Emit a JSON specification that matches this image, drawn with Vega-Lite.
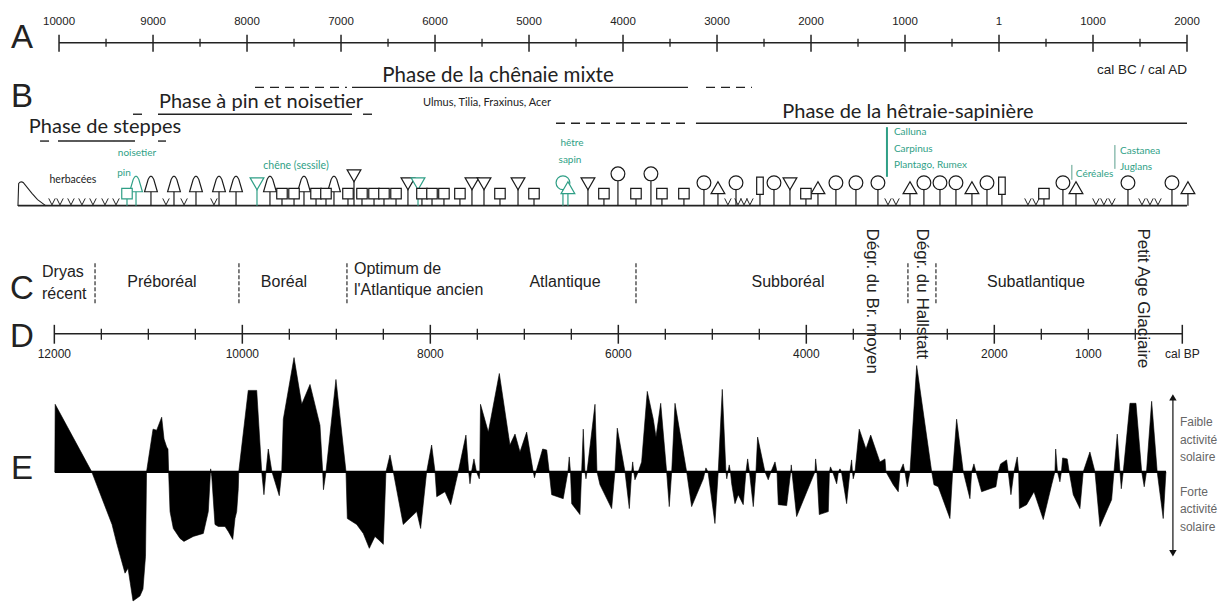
{
  "$schema": "https://vega.github.io/schema/vega-lite/v6.json",
  "width": 1223,
  "height": 603,
  "autosize": {"type": "fit", "contains": "padding"},
  "padding": 0,
  "background": "white",
  "config": {"view": {"stroke": null}, "text": {"font": "Liberation Sans", "color": "#222"}},
  "datasets": {
    "axeA_maj": [
      {"bp": 11950, "label": "10000"}, {"bp": 10950, "label": "9000"}, {"bp": 9950, "label": "8000"},
      {"bp": 8950, "label": "7000"}, {"bp": 7950, "label": "6000"}, {"bp": 6950, "label": "5000"},
      {"bp": 5950, "label": "4000"}, {"bp": 4950, "label": "3000"}, {"bp": 3950, "label": "2000"},
      {"bp": 2950, "label": "1000"}, {"bp": 1950, "label": "1"}, {"bp": 950, "label": "1000"},
      {"bp": -50, "label": "2000"}
    ],
    "axeA_min": [
      {"bp": 11450}, {"bp": 10450}, {"bp": 9450}, {"bp": 8450}, {"bp": 7450}, {"bp": 6450},
      {"bp": 5450}, {"bp": 4450}, {"bp": 3450}, {"bp": 2450}, {"bp": 1450}, {"bp": 450}
    ],
    "axeD_maj": [
      {"bp": 12000, "label": "12000"}, {"bp": 10000, "label": "10000"}, {"bp": 8000, "label": "8000"},
      {"bp": 6000, "label": "6000"}, {"bp": 4000, "label": "4000"}, {"bp": 2000, "label": "2000"},
      {"bp": 0, "label": "cal BP"}
    ],
    "axeD_min": [
      {"bp": 11500}, {"bp": 11000}, {"bp": 10500}, {"bp": 9500}, {"bp": 9000}, {"bp": 8500},
      {"bp": 7500}, {"bp": 7000}, {"bp": 6500}, {"bp": 5500}, {"bp": 5000}, {"bp": 4500},
      {"bp": 3500}, {"bp": 3000}, {"bp": 2500}, {"bp": 1500}, {"bp": 1000}, {"bp": 500}
    ],
    "phases": [
      {"phase": "chenaie", "debut": 9865, "fin": 8887, "statut": "incertaine"},
      {"phase": "chenaie", "debut": 8833, "fin": 5259, "statut": "attestee"},
      {"phase": "chenaie", "debut": 5067, "fin": 4578, "statut": "incertaine"},
      {"phase": "pin", "debut": 11163, "fin": 11014, "statut": "incertaine"},
      {"phase": "pin", "debut": 10897, "fin": 8833, "statut": "attestee"},
      {"phase": "pin", "debut": 8716, "fin": 8610, "statut": "incertaine"},
      {"phase": "steppes", "debut": 12152, "fin": 12046, "statut": "incertaine"},
      {"phase": "steppes", "debut": 11961, "fin": 11142, "statut": "attestee"},
      {"phase": "steppes", "debut": 10897, "fin": 10812, "statut": "incertaine"},
      {"phase": "hetraie", "debut": 6663, "fin": 5238, "statut": "incertaine"},
      {"phase": "hetraie", "debut": 5174, "fin": -50, "statut": "attestee"}
    ],
    "limites": [
      {"bp": 11567}, {"bp": 10036}, {"bp": 8887}, {"bp": 5812}, {"bp": 2919}, {"bp": 2621}
    ],
    "periodes": [
      {"bp": 10855, "nom": "Préboréal"}, {"bp": 9557, "nom": "Boréal"},
      {"bp": 6567, "nom": "Atlantique"}, {"bp": 4195, "nom": "Subboréal"},
      {"bp": 1557, "nom": "Subatlantique"}
    ],
    "degradations": [
      {"bp": 3302, "nom": "Dégr. du Br. moyen"}, {"bp": 2770, "nom": "Dégr. du Hallstatt"},
      {"bp": 419, "nom": "Petit Age Glaciaire"}
    ],
    "herbes": [
      {"bp": 12025}, {"bp": 11940}, {"bp": 11823}, {"bp": 11706}, {"bp": 11589}, {"bp": 11461},
      {"bp": 11344}, {"bp": 10812}, {"bp": 10620}, {"bp": 10302}, {"bp": 4834}, {"bp": 4727},
      {"bp": 4663}, {"bp": 4600}, {"bp": 3131}, {"bp": 3046}, {"bp": 1642}, {"bp": 1557},
      {"bp": 919}, {"bp": 834}, {"bp": 749}, {"bp": 429}, {"bp": 344}, {"bp": 259}
    ],
    "arbres": [
      {"bp": 11227, "forme": "carre", "repere": "oui"}, {"bp": 11131, "forme": "cloche", "repere": "oui"},
      {"bp": 10972, "forme": "cloche", "repere": "non"}, {"bp": 10727, "forme": "cloche", "repere": "non"},
      {"bp": 10493, "forme": "cloche", "repere": "non"}, {"bp": 10248, "forme": "cloche", "repere": "non"},
      {"bp": 10067, "forme": "cloche", "repere": "non"}, {"bp": 9844, "forme": "tri_inv", "repere": "oui"},
      {"bp": 9706, "forme": "cloche", "repere": "non"}, {"bp": 9578, "forme": "carre", "repere": "non"},
      {"bp": 9450, "forme": "carre", "repere": "non"}, {"bp": 9344, "forme": "cloche", "repere": "non"},
      {"bp": 9216, "forme": "carre", "repere": "non"}, {"bp": 9110, "forme": "carre", "repere": "non"},
      {"bp": 9025, "forme": "cloche", "repere": "non"}, {"bp": 8876, "forme": "carre", "repere": "non"},
      {"bp": 8812, "forme": "tri_inv_haut", "repere": "non"}, {"bp": 8727, "forme": "carre", "repere": "non"},
      {"bp": 8599, "forme": "carre", "repere": "non"}, {"bp": 8493, "forme": "carre", "repere": "non"},
      {"bp": 8365, "forme": "carre", "repere": "non"}, {"bp": 8238, "forme": "tri_inv", "repere": "non"},
      {"bp": 8131, "forme": "tri_inv", "repere": "oui"}, {"bp": 8089, "forme": "carre", "repere": "non"},
      {"bp": 7982, "forme": "carre", "repere": "non"}, {"bp": 7855, "forme": "carre", "repere": "non"},
      {"bp": 7685, "forme": "carre", "repere": "non"}, {"bp": 7557, "forme": "tri_inv", "repere": "non"},
      {"bp": 7429, "forme": "tri_inv", "repere": "non"}, {"bp": 7259, "forme": "carre", "repere": "non"},
      {"bp": 7067, "forme": "tri_inv", "repere": "non"}, {"bp": 6897, "forme": "carre", "repere": "non"},
      {"bp": 6589, "forme": "rond", "repere": "oui"}, {"bp": 6536, "forme": "tri", "repere": "oui"},
      {"bp": 6323, "forme": "tri_inv", "repere": "non"}, {"bp": 6153, "forme": "carre", "repere": "non"},
      {"bp": 6004, "forme": "rond_haut", "repere": "non"}, {"bp": 5812, "forme": "carre", "repere": "non"},
      {"bp": 5653, "forme": "rond_haut", "repere": "non"}, {"bp": 5536, "forme": "carre", "repere": "non"},
      {"bp": 5302, "forme": "carre", "repere": "non"}, {"bp": 5089, "forme": "rond", "repere": "non"},
      {"bp": 4940, "forme": "tri", "repere": "non"}, {"bp": 4748, "forme": "rond", "repere": "non"},
      {"bp": 4493, "forme": "barre", "repere": "non"}, {"bp": 4344, "forme": "rond", "repere": "non"},
      {"bp": 4174, "forme": "tri_inv", "repere": "non"}, {"bp": 4004, "forme": "carre", "repere": "non"},
      {"bp": 3876, "forme": "tri", "repere": "non"}, {"bp": 3685, "forme": "rond", "repere": "non"},
      {"bp": 3472, "forme": "rond", "repere": "non"}, {"bp": 3238, "forme": "rond", "repere": "non"},
      {"bp": 2897, "forme": "tri", "repere": "non"}, {"bp": 2749, "forme": "rond", "repere": "non"},
      {"bp": 2578, "forme": "rond", "repere": "non"}, {"bp": 2408, "forme": "rond", "repere": "non"},
      {"bp": 2238, "forme": "tri", "repere": "non"}, {"bp": 2078, "forme": "rond", "repere": "non"},
      {"bp": 1919, "forme": "barre", "repere": "non"}, {"bp": 1472, "forme": "carre", "repere": "non"},
      {"bp": 1270, "forme": "rond", "repere": "non"}, {"bp": 1131, "forme": "tri", "repere": "non"},
      {"bp": 578, "forme": "rond", "repere": "non"}, {"bp": 110, "forme": "rond", "repere": "non"},
      {"bp": -60, "forme": "tri", "repere": "non"}
    ],
    "activite": [
      {"bp": 11995, "v": 0}, {"bp": 11991, "v": 6.8}, {"bp": 11602, "v": 0}, {"bp": 11386, "v": -5.3},
      {"bp": 11333, "v": -7.3}, {"bp": 11248, "v": -10.2}, {"bp": 11216, "v": -9.7}, {"bp": 11163, "v": -13},
      {"bp": 11089, "v": -12.5}, {"bp": 11057, "v": -11.8}, {"bp": 11030, "v": -8.5}, {"bp": 11019, "v": 0},
      {"bp": 10950, "v": 4.3}, {"bp": 10911, "v": 4.2}, {"bp": 10858, "v": 5.5}, {"bp": 10833, "v": 3.3},
      {"bp": 10805, "v": 2.5}, {"bp": 10791, "v": 2.3}, {"bp": 10784, "v": 0}, {"bp": 10769, "v": -4},
      {"bp": 10734, "v": -5.7}, {"bp": 10663, "v": -6.7}, {"bp": 10621, "v": -7}, {"bp": 10522, "v": -6.5},
      {"bp": 10415, "v": -6.2}, {"bp": 10362, "v": -4}, {"bp": 10337, "v": 0.3}, {"bp": 10325, "v": -0.5},
      {"bp": 10291, "v": -5.3}, {"bp": 10256, "v": -5.5}, {"bp": 10184, "v": -5.5}, {"bp": 10149, "v": -6},
      {"bp": 10102, "v": -6.8}, {"bp": 10078, "v": -4.7}, {"bp": 10060, "v": -4}, {"bp": 10043, "v": -1.7},
      {"bp": 10038, "v": 0}, {"bp": 9937, "v": 8.2}, {"bp": 9847, "v": 8.2}, {"bp": 9794, "v": 0},
      {"bp": 9770, "v": -2.3}, {"bp": 9748, "v": 0}, {"bp": 9724, "v": 2.3}, {"bp": 9685, "v": 0},
      {"bp": 9607, "v": -2.4}, {"bp": 9581, "v": 0}, {"bp": 9564, "v": 5.3}, {"bp": 9450, "v": 11.5},
      {"bp": 9368, "v": 6.8}, {"bp": 9280, "v": 8.8}, {"bp": 9174, "v": 4.7}, {"bp": 9145, "v": 0},
      {"bp": 9137, "v": -1.8}, {"bp": 9110, "v": 0}, {"bp": 9004, "v": 9.3}, {"bp": 8897, "v": 0},
      {"bp": 8883, "v": -4.7}, {"bp": 8783, "v": -5.3}, {"bp": 8713, "v": -6.2}, {"bp": 8649, "v": -7.7},
      {"bp": 8589, "v": -6.5}, {"bp": 8554, "v": -6.8}, {"bp": 8500, "v": -7.3}, {"bp": 8472, "v": 0},
      {"bp": 8429, "v": 1.7}, {"bp": 8394, "v": 0}, {"bp": 8288, "v": -5.3}, {"bp": 8145, "v": -4},
      {"bp": 8103, "v": -5.7}, {"bp": 8039, "v": 0}, {"bp": 7986, "v": 2.7}, {"bp": 7950, "v": 0},
      {"bp": 7932, "v": -2.5}, {"bp": 7844, "v": -2}, {"bp": 7783, "v": -3.3}, {"bp": 7703, "v": 0},
      {"bp": 7621, "v": 3.7}, {"bp": 7592, "v": 0}, {"bp": 7578, "v": -1.2}, {"bp": 7562, "v": 0},
      {"bp": 7536, "v": 1.3}, {"bp": 7509, "v": 0}, {"bp": 7479, "v": -0.7}, {"bp": 7474, "v": 0},
      {"bp": 7466, "v": 6.8}, {"bp": 7383, "v": 4}, {"bp": 7266, "v": 9.9}, {"bp": 7153, "v": 2.7},
      {"bp": 7099, "v": 3.8}, {"bp": 7046, "v": 2}, {"bp": 6975, "v": 4}, {"bp": 6905, "v": 0},
      {"bp": 6892, "v": -0.6}, {"bp": 6876, "v": 0}, {"bp": 6805, "v": 2.3}, {"bp": 6762, "v": 2.2},
      {"bp": 6735, "v": 0}, {"bp": 6709, "v": -2.3}, {"bp": 6586, "v": -2.7}, {"bp": 6536, "v": 0},
      {"bp": 6522, "v": 1.5}, {"bp": 6509, "v": 0}, {"bp": 6496, "v": -3.2}, {"bp": 6408, "v": -4.3},
      {"bp": 6390, "v": 0}, {"bp": 6373, "v": 4.3}, {"bp": 6355, "v": 0}, {"bp": 6344, "v": -0.7},
      {"bp": 6333, "v": 0}, {"bp": 6248, "v": 6.8}, {"bp": 6227, "v": 0}, {"bp": 6195, "v": -1.3},
      {"bp": 6071, "v": -3.7}, {"bp": 6036, "v": 0}, {"bp": 6011, "v": 4.4}, {"bp": 5929, "v": 0},
      {"bp": 5883, "v": -3.7}, {"bp": 5858, "v": 0}, {"bp": 5847, "v": 1}, {"bp": 5836, "v": 0},
      {"bp": 5823, "v": -0.8}, {"bp": 5788, "v": 0}, {"bp": 5752, "v": 1}, {"bp": 5692, "v": 8.1},
      {"bp": 5628, "v": 5.3}, {"bp": 5599, "v": 3.5}, {"bp": 5549, "v": 6.9}, {"bp": 5486, "v": 0},
      {"bp": 5458, "v": -3.5}, {"bp": 5432, "v": 0}, {"bp": 5397, "v": 6.9}, {"bp": 5273, "v": 0},
      {"bp": 5220, "v": -3.5}, {"bp": 5096, "v": -0.7}, {"bp": 5068, "v": 0.4}, {"bp": 5046, "v": 0},
      {"bp": 4972, "v": -5.2}, {"bp": 4937, "v": 0}, {"bp": 4894, "v": 8.3}, {"bp": 4855, "v": 0},
      {"bp": 4846, "v": -0.7}, {"bp": 4833, "v": 0}, {"bp": 4820, "v": 0.7}, {"bp": 4807, "v": 0},
      {"bp": 4794, "v": -1.2}, {"bp": 4759, "v": -3.2}, {"bp": 4724, "v": -2.3}, {"bp": 4671, "v": -3.3},
      {"bp": 4642, "v": 0}, {"bp": 4624, "v": 1.3}, {"bp": 4605, "v": 0}, {"bp": 4564, "v": -3.5},
      {"bp": 4536, "v": 0}, {"bp": 4518, "v": 3.5}, {"bp": 4440, "v": 0}, {"bp": 4405, "v": -0.8},
      {"bp": 4376, "v": 0}, {"bp": 4333, "v": 1}, {"bp": 4312, "v": 0}, {"bp": 4298, "v": -3.3},
      {"bp": 4209, "v": -3.4}, {"bp": 4166, "v": 0}, {"bp": 4160, "v": 0.7}, {"bp": 4153, "v": 0},
      {"bp": 4103, "v": -4.5}, {"bp": 3908, "v": 0}, {"bp": 3901, "v": 1.3}, {"bp": 3887, "v": 0},
      {"bp": 3862, "v": -4.3}, {"bp": 3766, "v": -4}, {"bp": 3754, "v": 0}, {"bp": 3743, "v": 0.5},
      {"bp": 3720, "v": 0}, {"bp": 3677, "v": -1.2}, {"bp": 3658, "v": 0}, {"bp": 3642, "v": 0.3},
      {"bp": 3626, "v": 0}, {"bp": 3571, "v": -3.2}, {"bp": 3536, "v": 0}, {"bp": 3518, "v": 1.2},
      {"bp": 3509, "v": 0}, {"bp": 3501, "v": -0.7}, {"bp": 3482, "v": 0}, {"bp": 3437, "v": 4.3},
      {"bp": 3365, "v": 2.3}, {"bp": 3315, "v": 3.7}, {"bp": 3217, "v": 1}, {"bp": 3163, "v": 1.3},
      {"bp": 3153, "v": 0}, {"bp": 3075, "v": -1.3}, {"bp": 3022, "v": -2}, {"bp": 3004, "v": 0},
      {"bp": 2969, "v": 0.8}, {"bp": 2951, "v": 0}, {"bp": 2926, "v": -1.5}, {"bp": 2897, "v": 0},
      {"bp": 2826, "v": 10.7}, {"bp": 2666, "v": 0}, {"bp": 2642, "v": -1.3}, {"bp": 2596, "v": -1.5},
      {"bp": 2472, "v": -4.7}, {"bp": 2443, "v": 0}, {"bp": 2401, "v": 5.3}, {"bp": 2330, "v": 0},
      {"bp": 2259, "v": -2.7}, {"bp": 2241, "v": 0}, {"bp": 2217, "v": 0.8}, {"bp": 2195, "v": 0},
      {"bp": 2135, "v": -2}, {"bp": 2046, "v": -1.7}, {"bp": 1983, "v": -1.5}, {"bp": 1958, "v": 0},
      {"bp": 1933, "v": 0.8}, {"bp": 1869, "v": 1.2}, {"bp": 1852, "v": 0}, {"bp": 1823, "v": -2.3},
      {"bp": 1791, "v": 0}, {"bp": 1756, "v": 1.5}, {"bp": 1741, "v": 0}, {"bp": 1733, "v": -3.7},
      {"bp": 1656, "v": -3.3}, {"bp": 1578, "v": -2}, {"bp": 1479, "v": -4.8}, {"bp": 1390, "v": -1.3},
      {"bp": 1355, "v": 0}, {"bp": 1347, "v": 2.3}, {"bp": 1328, "v": 0}, {"bp": 1302, "v": -1},
      {"bp": 1286, "v": 0}, {"bp": 1273, "v": 1.4}, {"bp": 1224, "v": 1.3}, {"bp": 1203, "v": 0},
      {"bp": 1160, "v": -2.3}, {"bp": 1089, "v": -3.7}, {"bp": 1054, "v": 0}, {"bp": 983, "v": 2},
      {"bp": 929, "v": 0}, {"bp": 876, "v": -5.5}, {"bp": 752, "v": -2.8}, {"bp": 727, "v": 0},
      {"bp": 692, "v": 3.8}, {"bp": 663, "v": 0}, {"bp": 649, "v": -1.7}, {"bp": 628, "v": 0},
      {"bp": 557, "v": 6.9}, {"bp": 493, "v": 6.9}, {"bp": 432, "v": 0}, {"bp": 405, "v": -1.5},
      {"bp": 381, "v": 0}, {"bp": 326, "v": 7.1}, {"bp": 267, "v": 0}, {"bp": 203, "v": -4.7},
      {"bp": 174, "v": 0}
    ]
  },
  "layer": [
    {
      "layer": [
        {"data": {"values": [{}]}, "mark": {"type": "text", "fontSize": 33},
         "encoding": {"x": {"datum": 12344, "scale": {"domain": [-433, 12578], "reverse": true, "nice": false, "zero": false}, "axis": null},
                      "y": {"datum": 38, "scale": {"domain": [0, 603], "reverse": true, "nice": false, "zero": false}, "axis": null},
                      "text": {"value": "A"}}},
        {"data": {"values": [{}]}, "mark": {"type": "text", "fontSize": 33},
         "encoding": {"x": {"datum": 12344}, "y": {"datum": 98}, "text": {"value": "B"}}},
        {"data": {"values": [{}]}, "mark": {"type": "text", "fontSize": 33},
         "encoding": {"x": {"datum": 12344}, "y": {"datum": 291}, "text": {"value": "C"}}},
        {"data": {"values": [{}]}, "mark": {"type": "text", "fontSize": 33},
         "encoding": {"x": {"datum": 12344}, "y": {"datum": 339}, "text": {"value": "D"}}},
        {"data": {"values": [{}]}, "mark": {"type": "text", "fontSize": 33},
         "encoding": {"x": {"datum": 12344}, "y": {"datum": 472}, "text": {"value": "E"}}},

        {"data": {"values": [{}]}, "mark": {"type": "rule", "strokeWidth": 1.5, "color": "#222"},
         "encoding": {"x": {"datum": 11950}, "x2": {"datum": -50}, "y": {"datum": 43}}},
        {"data": {"name": "axeA_maj"}, "mark": {"type": "rule", "strokeWidth": 1.5, "color": "#222"},
         "encoding": {"x": {"field": "bp", "type": "quantitative"}, "y": {"datum": 35}, "y2": {"datum": 52}}},
        {"data": {"name": "axeA_min"}, "mark": {"type": "rule", "strokeWidth": 1.3, "color": "#222"},
         "encoding": {"x": {"field": "bp", "type": "quantitative"}, "y": {"datum": 39}, "y2": {"datum": 47}}},
        {"data": {"name": "axeA_maj"}, "mark": {"type": "text", "fontSize": 11.5},
         "encoding": {"x": {"field": "bp", "type": "quantitative"}, "y": {"datum": 22}, "text": {"field": "label"}}},
        {"data": {"values": [{}]}, "mark": {"type": "text", "fontSize": 13.5, "align": "right"},
         "encoding": {"x": {"datum": -50}, "y": {"datum": 70}, "text": {"value": "cal BC / cal AD"}}},

        {"data": {"values": [{}]}, "mark": {"type": "text", "fontSize": 20.5, "font": "Lato"},
         "encoding": {"x": {"datum": 7280}, "y": {"datum": 77}, "text": {"value": "Phase de la chênaie mixte"}}},
        {"data": {"values": [{}]}, "mark": {"type": "text", "fontSize": 11, "font": "Lato"},
         "encoding": {"x": {"datum": 7397}, "y": {"datum": 104}, "text": {"value": "Ulmus, Tilia, Fraxinus, Acer"}}},
        {"data": {"values": [{}]}, "mark": {"type": "text", "fontSize": 20, "font": "Lato"},
         "encoding": {"x": {"datum": 9801}, "y": {"datum": 103}, "text": {"value": "Phase à pin et noisetier"}}},
        {"data": {"values": [{}]}, "mark": {"type": "text", "fontSize": 20, "font": "Lato"},
         "encoding": {"x": {"datum": 11461}, "y": {"datum": 128}, "text": {"value": "Phase de steppes"}}},
        {"data": {"values": [{}]}, "mark": {"type": "text", "fontSize": 20, "font": "Lato"},
         "encoding": {"x": {"datum": 2919}, "y": {"datum": 113}, "text": {"value": "Phase de la hêtraie-sapinière"}}},

        {"data": {"name": "phases"}, "transform": [{"filter": "datum.phase === 'chenaie'"}],
         "mark": {"type": "rule", "strokeWidth": 1.4, "color": "#222"},
         "encoding": {"x": {"field": "debut", "type": "quantitative"}, "x2": {"field": "fin"}, "y": {"datum": 88},
                      "strokeDash": {"field": "statut", "type": "nominal", "scale": {"domain": ["attestee", "incertaine"], "range": [[1, 0], [9, 6]]}, "legend": null}}},
        {"data": {"name": "phases"}, "transform": [{"filter": "datum.phase === 'pin'"}],
         "mark": {"type": "rule", "strokeWidth": 1.4, "color": "#222"},
         "encoding": {"x": {"field": "debut", "type": "quantitative"}, "x2": {"field": "fin"}, "y": {"datum": 115},
                      "strokeDash": {"field": "statut", "type": "nominal", "legend": null}}},
        {"data": {"name": "phases"}, "transform": [{"filter": "datum.phase === 'steppes'"}],
         "mark": {"type": "rule", "strokeWidth": 1.4, "color": "#222"},
         "encoding": {"x": {"field": "debut", "type": "quantitative"}, "x2": {"field": "fin"}, "y": {"datum": 142},
                      "strokeDash": {"field": "statut", "type": "nominal", "legend": null}}},
        {"data": {"name": "phases"}, "transform": [{"filter": "datum.phase === 'hetraie'"}],
         "mark": {"type": "rule", "strokeWidth": 1.4, "color": "#222"},
         "encoding": {"x": {"field": "debut", "type": "quantitative"}, "x2": {"field": "fin"}, "y": {"datum": 124},
                      "strokeDash": {"field": "statut", "type": "nominal", "legend": null}}},

        {"data": {"values": [{}]}, "mark": {"type": "text", "fontSize": 10, "color": "#2f9f86", "font": "Lato"},
         "encoding": {"x": {"datum": 11121}, "y": {"datum": 154}, "text": {"value": "noisetier"}}},
        {"data": {"values": [{}]}, "mark": {"type": "text", "fontSize": 10, "color": "#2f9f86", "font": "Lato"},
         "encoding": {"x": {"datum": 11259}, "y": {"datum": 174}, "text": {"value": "pin"}}},
        {"data": {"values": [{}]}, "mark": {"type": "text", "fontSize": 10.5, "color": "#2f9f86", "font": "Lato"},
         "encoding": {"x": {"datum": 9429}, "y": {"datum": 167}, "text": {"value": "chêne (sessile)"}}},
        {"data": {"values": [{}]}, "mark": {"type": "text", "fontSize": 10, "color": "#2f9f86", "font": "Lato"},
         "encoding": {"x": {"datum": 6493}, "y": {"datum": 144}, "text": {"value": "hêtre"}}},
        {"data": {"values": [{}]}, "mark": {"type": "text", "fontSize": 10, "color": "#2f9f86", "font": "Lato"},
         "encoding": {"x": {"datum": 6514}, "y": {"datum": 161}, "text": {"value": "sapin"}}},
        {"data": {"values": [{}]}, "mark": {"type": "text", "fontSize": 10, "color": "#2f9f86", "font": "Lato", "align": "left", "baseline": "top", "lineHeight": 16.5},
         "encoding": {"x": {"datum": 3068}, "y": {"datum": 128}, "text": {"value": ["Calluna", "Carpinus", "Plantago, Rumex"]}}},
        {"data": {"values": [{}]}, "mark": {"type": "text", "fontSize": 10, "color": "#2f9f86", "font": "Lato", "align": "left", "baseline": "top", "lineHeight": 16},
         "encoding": {"x": {"datum": 663}, "y": {"datum": 147}, "text": {"value": ["Castanea", "Juglans"]}}},
        {"data": {"values": [{}]}, "mark": {"type": "text", "fontSize": 10, "color": "#2f9f86", "font": "Lato", "align": "left"},
         "encoding": {"x": {"datum": 1133}, "y": {"datum": 175}, "text": {"value": "Céréales"}}},
        {"data": {"values": [{}]}, "mark": {"type": "rule", "strokeWidth": 2, "color": "#2f9f86"},
         "encoding": {"x": {"datum": 3142}, "y": {"datum": 128}, "y2": {"datum": 178}}},
        {"data": {"values": [{}]}, "mark": {"type": "rule", "strokeWidth": 1, "color": "#5a9f8c"},
         "encoding": {"x": {"datum": 717}, "y": {"datum": 146}, "y2": {"datum": 170}}},
        {"data": {"values": [{}]}, "mark": {"type": "rule", "strokeWidth": 1, "color": "#5a9f8c"},
         "encoding": {"x": {"datum": 1175}, "y": {"datum": 166}, "y2": {"datum": 181}}},

        {"data": {"values": [{}]}, "mark": {"type": "text", "fontSize": 10.5, "font": "Lato"},
         "encoding": {"x": {"datum": 11802}, "y": {"datum": 181}, "text": {"value": "herbacées"}}},
        {"data": {"values": [{}]}, "mark": {"type": "point", "shape": "M -1 0.8 L -0.95 -0.8 Q -0.8 -1 -0.6 -0.85 L 0 -0.1 L 0.4 0.35 L 1 0.8", "size": 784, "filled": false, "opacity": 1, "strokeWidth": 1.1, "color": "#222"},
         "encoding": {"x": {"datum": 12238}, "y": {"datum": 196}}},
        {"data": {"values": [{}]}, "mark": {"type": "rule", "strokeWidth": 1.6, "color": "#222"},
         "encoding": {"x": {"datum": 12387}, "x2": {"datum": -50}, "y": {"datum": 207}}},
        {"data": {"name": "herbes"}, "mark": {"type": "point", "shape": "M -1 -1 L 0 1 L 1 -1", "size": 42, "filled": false, "opacity": 1, "strokeWidth": 1, "color": "#222"},
         "encoding": {"x": {"field": "bp", "type": "quantitative"}, "y": {"datum": 203}}},

        {"data": {"name": "arbres"}, "transform": [{"filter": "datum.forme === 'rond'"}],
         "layer": [
           {"mark": {"type": "rule", "strokeWidth": 1.2},
            "encoding": {"x": {"field": "bp", "type": "quantitative"}, "y": {"datum": 207}, "y2": {"datum": 190},
                         "stroke": {"field": "repere", "type": "nominal", "scale": {"domain": ["non", "oui"], "range": ["#1a1a1a", "#2f9f86"]}, "legend": null}}},
           {"mark": {"type": "point", "shape": "circle", "size": 190, "filled": true, "fill": "white", "opacity": 1, "strokeWidth": 1.2},
            "encoding": {"x": {"field": "bp", "type": "quantitative"}, "y": {"datum": 184},
                         "stroke": {"field": "repere", "type": "nominal", "legend": null}}}
         ]},
        {"data": {"name": "arbres"}, "transform": [{"filter": "datum.forme === 'rond_haut'"}],
         "layer": [
           {"mark": {"type": "rule", "strokeWidth": 1.2},
            "encoding": {"x": {"field": "bp", "type": "quantitative"}, "y": {"datum": 207}, "y2": {"datum": 182},
                         "stroke": {"field": "repere", "type": "nominal", "legend": null}}},
           {"mark": {"type": "point", "shape": "circle", "size": 190, "filled": true, "fill": "white", "opacity": 1, "strokeWidth": 1.2},
            "encoding": {"x": {"field": "bp", "type": "quantitative"}, "y": {"datum": 175},
                         "stroke": {"field": "repere", "type": "nominal", "legend": null}}}
         ]},
        {"data": {"name": "arbres"}, "transform": [{"filter": "datum.forme === 'cloche'"}],
         "layer": [
           {"mark": {"type": "rule", "strokeWidth": 1.2},
            "encoding": {"x": {"field": "bp", "type": "quantitative"}, "y": {"datum": 207}, "y2": {"datum": 192},
                         "stroke": {"field": "repere", "type": "nominal", "legend": null}}},
           {"mark": {"type": "point", "shape": "M -0.8 1 L -0.35 -0.55 Q 0 -1.35 0.35 -0.55 L 0.8 1 Z", "size": 256, "filled": true, "fill": "white", "opacity": 1, "strokeWidth": 1.2},
            "encoding": {"x": {"field": "bp", "type": "quantitative"}, "y": {"datum": 185},
                         "stroke": {"field": "repere", "type": "nominal", "legend": null}}}
         ]},
        {"data": {"name": "arbres"}, "transform": [{"filter": "datum.forme === 'tri'"}],
         "layer": [
           {"mark": {"type": "rule", "strokeWidth": 1.2},
            "encoding": {"x": {"field": "bp", "type": "quantitative"}, "y": {"datum": 207}, "y2": {"datum": 195},
                         "stroke": {"field": "repere", "type": "nominal", "legend": null}}},
           {"mark": {"type": "point", "shape": "triangle-up", "size": 190, "filled": true, "fill": "white", "opacity": 1, "strokeWidth": 1.2},
            "encoding": {"x": {"field": "bp", "type": "quantitative"}, "y": {"datum": 189},
                         "stroke": {"field": "repere", "type": "nominal", "legend": null}}}
         ]},
        {"data": {"name": "arbres"}, "transform": [{"filter": "datum.forme === 'tri_inv'"}],
         "layer": [
           {"mark": {"type": "rule", "strokeWidth": 1.2},
            "encoding": {"x": {"field": "bp", "type": "quantitative"}, "y": {"datum": 207}, "y2": {"datum": 190},
                         "stroke": {"field": "repere", "type": "nominal", "legend": null}}},
           {"mark": {"type": "point", "shape": "triangle-down", "size": 190, "filled": true, "fill": "white", "opacity": 1, "strokeWidth": 1.2},
            "encoding": {"x": {"field": "bp", "type": "quantitative"}, "y": {"datum": 185},
                         "stroke": {"field": "repere", "type": "nominal", "legend": null}}}
         ]},
        {"data": {"name": "arbres"}, "transform": [{"filter": "datum.forme === 'tri_inv_haut'"}],
         "layer": [
           {"mark": {"type": "rule", "strokeWidth": 1.2},
            "encoding": {"x": {"field": "bp", "type": "quantitative"}, "y": {"datum": 207}, "y2": {"datum": 182},
                         "stroke": {"field": "repere", "type": "nominal", "legend": null}}},
           {"mark": {"type": "point", "shape": "triangle-down", "size": 190, "filled": true, "fill": "white", "opacity": 1, "strokeWidth": 1.2},
            "encoding": {"x": {"field": "bp", "type": "quantitative"}, "y": {"datum": 177},
                         "stroke": {"field": "repere", "type": "nominal", "legend": null}}}
         ]},
        {"data": {"name": "arbres"}, "transform": [{"filter": "datum.forme === 'carre'"}],
         "layer": [
           {"mark": {"type": "rule", "strokeWidth": 1.2},
            "encoding": {"x": {"field": "bp", "type": "quantitative"}, "y": {"datum": 207}, "y2": {"datum": 199},
                         "stroke": {"field": "repere", "type": "nominal", "legend": null}}},
           {"mark": {"type": "point", "shape": "square", "size": 110, "filled": true, "fill": "white", "opacity": 1, "strokeWidth": 1.2},
            "encoding": {"x": {"field": "bp", "type": "quantitative"}, "y": {"datum": 195},
                         "stroke": {"field": "repere", "type": "nominal", "legend": null}}}
         ]},
        {"data": {"name": "arbres"}, "transform": [{"filter": "datum.forme === 'barre'"}],
         "layer": [
           {"mark": {"type": "rule", "strokeWidth": 1.2},
            "encoding": {"x": {"field": "bp", "type": "quantitative"}, "y": {"datum": 207}, "y2": {"datum": 196},
                         "stroke": {"field": "repere", "type": "nominal", "legend": null}}},
           {"mark": {"type": "point", "shape": "M -0.38 -1 L 0.38 -1 L 0.38 1 L -0.38 1 Z", "size": 300, "filled": true, "fill": "white", "opacity": 1, "strokeWidth": 1.2},
            "encoding": {"x": {"field": "bp", "type": "quantitative"}, "y": {"datum": 187},
                         "stroke": {"field": "repere", "type": "nominal", "legend": null}}}
         ]},

        {"data": {"name": "limites"}, "mark": {"type": "rule", "strokeWidth": 1.5, "strokeDash": [4, 2], "color": "#555"},
         "encoding": {"x": {"field": "bp", "type": "quantitative"}, "y": {"datum": 265}, "y2": {"datum": 306}}},
        {"data": {"values": [{}]}, "mark": {"type": "text", "fontSize": 16, "align": "left", "baseline": "top", "lineHeight": 22},
         "encoding": {"x": {"datum": 12131}, "y": {"datum": 266}, "text": {"value": ["Dryas", "récent"]}}},
        {"data": {"values": [{}]}, "mark": {"type": "text", "fontSize": 16, "align": "left", "baseline": "top", "lineHeight": 21},
         "encoding": {"x": {"datum": 8812}, "y": {"datum": 263}, "text": {"value": ["Optimum de", "l'Atlantique ancien"]}}},
        {"data": {"name": "periodes"}, "mark": {"type": "text", "fontSize": 16},
         "encoding": {"x": {"field": "bp", "type": "quantitative"}, "y": {"datum": 284}, "text": {"field": "nom"}}},
        {"data": {"name": "degradations"}, "mark": {"type": "text", "fontSize": 17, "angle": 90, "align": "left", "baseline": "middle"},
         "encoding": {"x": {"field": "bp", "type": "quantitative"}, "y": {"datum": 230}, "text": {"field": "nom"}}},

        {"data": {"values": [{}]}, "mark": {"type": "rule", "strokeWidth": 1.5, "color": "#222"},
         "encoding": {"x": {"datum": 12000}, "x2": {"datum": 0}, "y": {"datum": 336}}},
        {"data": {"name": "axeD_maj"}, "mark": {"type": "rule", "strokeWidth": 1.5, "color": "#222"},
         "encoding": {"x": {"field": "bp", "type": "quantitative"}, "y": {"datum": 327}, "y2": {"datum": 346}}},
        {"data": {"name": "axeD_min"}, "mark": {"type": "rule", "strokeWidth": 1.3, "color": "#222"},
         "encoding": {"x": {"field": "bp", "type": "quantitative"}, "y": {"datum": 331}, "y2": {"datum": 342}}},
        {"data": {"name": "axeD_maj"}, "mark": {"type": "text", "fontSize": 12},
         "encoding": {"x": {"field": "bp", "type": "quantitative"}, "y": {"datum": 356}, "text": {"field": "label"}}},
        {"data": {"values": [{}]}, "mark": {"type": "text", "fontSize": 12},
         "encoding": {"x": {"datum": 1000}, "y": {"datum": 356}, "text": {"value": "1000"}}},

        {"data": {"values": [{}]}, "mark": {"type": "rule", "strokeWidth": 1.4, "color": "#333"},
         "encoding": {"x": {"datum": 100}, "y": {"datum": 402}, "y2": {"datum": 555}}},
        {"data": {"values": [{}]}, "mark": {"type": "point", "shape": "triangle-up", "size": 55, "filled": true, "opacity": 1, "color": "#111"},
         "encoding": {"x": {"datum": 100}, "y": {"datum": 400}}},
        {"data": {"values": [{}]}, "mark": {"type": "point", "shape": "triangle-down", "size": 55, "filled": true, "opacity": 1, "color": "#111"},
         "encoding": {"x": {"datum": 100}, "y": {"datum": 557}}},
        {"data": {"values": [{}]}, "mark": {"type": "text", "fontSize": 12, "color": "#666", "align": "left", "baseline": "top", "lineHeight": 17.5},
         "encoding": {"x": {"datum": 25}, "y": {"datum": 420}, "text": {"value": ["Faible", "activité", "solaire"]}}},
        {"data": {"values": [{}]}, "mark": {"type": "text", "fontSize": 12, "color": "#666", "align": "left", "baseline": "top", "lineHeight": 17.5},
         "encoding": {"x": {"datum": 25}, "y": {"datum": 490}, "text": {"value": ["Forte", "activité", "solaire"]}}}
      ]
    },
    {
      "layer": [
        {"data": {"name": "activite"}, "mark": {"type": "area", "color": "#000", "stroke": "#000", "strokeWidth": 0.6, "opacity": 1},
         "encoding": {"x": {"field": "bp", "type": "quantitative"},
                      "y": {"field": "v", "type": "quantitative", "scale": {"domain": [-12.8, 47.5], "nice": false, "zero": false}, "axis": null},
                      "y2": {"datum": 0}}},
        {"data": {"values": [{}]}, "mark": {"type": "rule", "strokeWidth": 2.2, "color": "#000"},
         "encoding": {"x": {"datum": 11995}, "x2": {"datum": 174}, "y": {"datum": 0, "scale": {"domain": [-12.8, 47.5], "nice": false, "zero": false}}}}
      ]
    }
  ],
  "resolve": {"scale": {"y": "independent"}}
}
